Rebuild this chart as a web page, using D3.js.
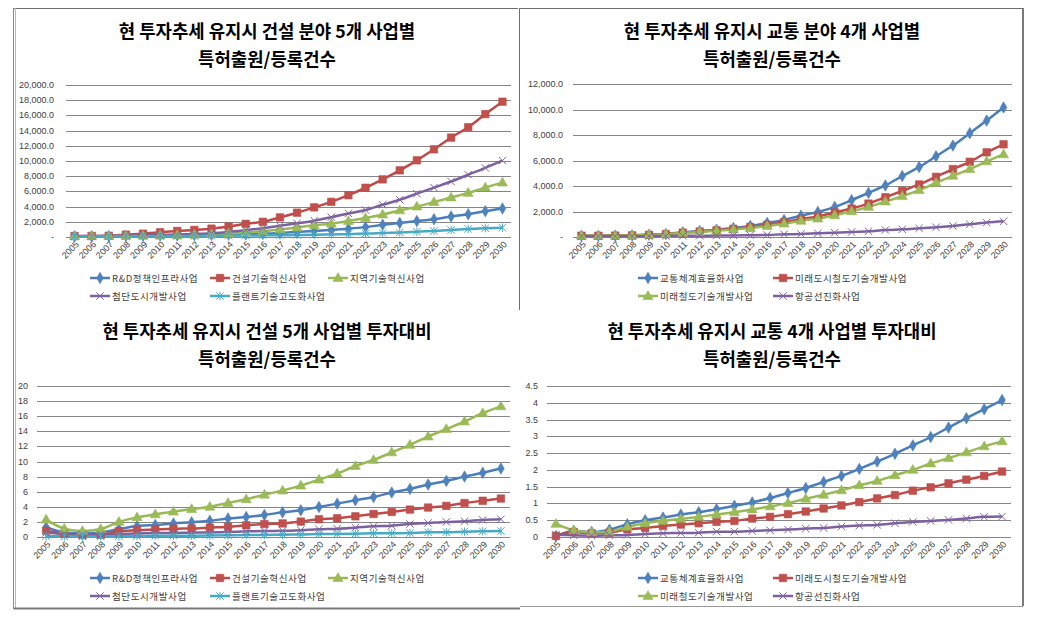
<!DOCTYPE html>
<html><head><meta charset="utf-8">
<script src="https://cdn.jsdelivr.net/npm/d3@7"></script>
<style>body{margin:0;background:#fff} svg{display:block}</style>
</head><body><svg id="c" width="1044" height="623"></svg>
<script>
const years = ['2005','2006','2007','2008','2009','2010','2011','2012','2013','2014','2015','2016','2017','2018','2019','2020','2021','2022','2023','2024','2025','2026','2027','2028','2029','2030'];

// construction series names
const conNames = ['R&D정책인프라사업','건설기술혁신사업','지역기술혁신사업','첨단도시개발사업','플랜트기술고도화사업'];
// transport series names
const traNames = ['교통체계효율화사업','미래도시철도기술개발사업','미래철도기술개발사업','항공선진화사업'];

const titleConCount = ['현 투자추세 유지시 건설 분야 5개 사업별','특허출원/등록건수'];
const titleTraCount = ['현 투자추세 유지시 교통 분야 4개 사업별','특허출원/등록건수'];
const titleConRatio = ['현 투자추세 유지시 건설 5개 사업별 투자대비','특허출원/등록건수'];
const titleTraRatio = ['현 투자추세 유지시 교통 4개 사업별 투자대비','특허출원/등록건수'];

// Top-left: construction patent counts
const conCountRnd = [90,100,110,130,150,180,210,250,290,320,360,440,530,670,800,950,1100,1300,1600,1850,2100,2350,2700,3000,3400,3750];
const conCountTech = [130,140,160,310,440,620,800,930,1100,1380,1730,2000,2580,3200,3900,4630,5500,6480,7580,8770,10090,11540,13080,14450,16170,17800];
const conCountRegion = [100,110,120,140,170,200,240,290,350,440,580,750,980,1250,1550,1750,2100,2500,2950,3500,4000,4600,5200,5800,6500,7150];
const conCountCity = [110,120,140,170,220,270,320,400,500,670,900,1150,1470,1800,2150,2600,3100,3550,4250,4900,5700,6500,7300,8200,9100,10050];
const conCountPlant = [80,85,90,100,110,120,130,140,150,170,190,210,230,260,290,330,370,450,520,600,700,800,920,1050,1150,1220];

// Top-right: transport patent counts
const traCountEff = [100,100,110,130,180,240,370,470,570,700,870,1100,1330,1670,1970,2360,2890,3460,4040,4780,5490,6330,7170,8140,9130,10160];
const traCountUrbanRail = [100,100,110,130,170,230,340,430,520,640,790,960,1150,1400,1600,1920,2230,2620,3120,3620,4120,4720,5330,5900,6640,7270];
const traCountRail = [90,95,105,120,160,220,320,400,490,590,700,850,1050,1270,1440,1700,2020,2360,2780,3200,3670,4250,4800,5330,5930,6480];
const traCountAir = [60,60,60,60,70,80,90,100,110,120,140,160,210,240,290,340,390,450,550,600,680,760,870,1000,1130,1230];

// Bottom-left: construction counts per investment
const conRatioRnd = [1.3,0.6,0.45,0.6,1.05,1.45,1.6,1.8,1.95,2.15,2.45,2.65,2.92,3.27,3.54,3.98,4.42,4.87,5.3,5.88,6.37,6.95,7.43,8.0,8.5,9.07];
const conRatioTech = [0.82,0.47,0.25,0.3,0.78,0.9,1.0,1.1,1.12,1.24,1.35,1.55,1.72,1.8,2.04,2.35,2.48,2.74,3.05,3.32,3.63,3.9,4.12,4.5,4.8,5.09];
const conRatioRegion = [2.3,1.1,0.8,1.05,2.0,2.6,3.0,3.35,3.7,4.0,4.5,5.0,5.6,6.15,6.8,7.6,8.4,9.4,10.2,11.2,12.2,13.3,14.3,15.3,16.4,17.3];
const conRatioCity = [0.55,0.4,0.3,0.3,0.4,0.45,0.52,0.53,0.57,0.6,0.66,0.75,0.8,0.82,0.9,1.02,1.1,1.24,1.42,1.5,1.73,1.86,2.0,2.08,2.26,2.35];
const conRatioPlant = [0.1,0.08,0.06,0.08,0.1,0.13,0.17,0.18,0.18,0.19,0.22,0.27,0.28,0.31,0.32,0.4,0.41,0.44,0.49,0.5,0.53,0.62,0.63,0.71,0.75,0.8];

// Bottom-right: transport counts per investment
const traRatioEff = [0.03,0.18,0.15,0.22,0.38,0.5,0.58,0.67,0.74,0.83,0.93,1.03,1.16,1.31,1.46,1.64,1.82,2.03,2.25,2.48,2.73,2.98,3.26,3.54,3.81,4.08];
const traRatioUrbanRail = [0.03,0.15,0.11,0.13,0.23,0.27,0.33,0.37,0.41,0.45,0.48,0.55,0.6,0.68,0.76,0.85,0.94,1.04,1.15,1.25,1.38,1.48,1.6,1.71,1.82,1.95];
const traRatioRail = [0.39,0.2,0.14,0.16,0.3,0.41,0.48,0.54,0.6,0.67,0.74,0.82,0.91,1.01,1.14,1.26,1.39,1.54,1.67,1.84,2.0,2.19,2.35,2.52,2.7,2.85];
const traRatioAir = [0.07,0.05,0.04,0.05,0.06,0.09,0.11,0.12,0.13,0.16,0.16,0.18,0.2,0.22,0.25,0.27,0.31,0.34,0.36,0.41,0.45,0.48,0.51,0.55,0.6,0.61];

const yTicksConCount = [0,2000,4000,6000,8000,10000,12000,14000,16000,18000,20000];
const yTicksTraCount = [0,2000,4000,6000,8000,10000,12000];
const yTicksConRatio = [0,2,4,6,8,10,12,14,16,18,20];
const yTicksTraRatio = [0,0.5,1,1.5,2,2.5,3,3.5,4,4.5];

// styles
const ST = {
  blue:   {line:'#4A7EBB', fill:'#4F81BD', m:'diamond'},
  red:    {line:'#BE4B48', fill:'#C0504D', m:'square'},
  green:  {line:'#98B954', fill:'#9BBB59', m:'triangle'},
  purple: {line:'#7D60A0', fill:'#8064A2', m:'x'},
  cyan:   {line:'#46AAC5', fill:'#4BACC6', m:'star'}
};

const svg = d3.select('#c');
const KFONT = "'Noto Sans CJK KR','Noto Sans',sans-serif";
const NFONT = "'Liberation Sans','DejaVu Sans',sans-serif";

function marker(g, type, st, cx, cy) {
  if (type === 'diamond') {
    g.append('path').attr('d', d3.symbol(d3.symbolDiamond, 38)()).attr('transform',`translate(${cx},${cy})`).attr('fill', st.fill).attr('stroke', st.line).attr('stroke-width',0.6);
  } else if (type === 'square') {
    g.append('path').attr('d', d3.symbol(d3.symbolSquare, 56)()).attr('transform',`translate(${cx},${cy})`).attr('fill', st.fill).attr('stroke', st.line).attr('stroke-width',0.6);
  } else if (type === 'triangle') {
    g.append('path').attr('d', d3.symbol(d3.symbolTriangle, 44)()).attr('transform',`translate(${cx},${cy+0.5})`).attr('fill', st.fill).attr('stroke', st.line).attr('stroke-width',0.6);
  } else if (type === 'x' || type === 'star') {
    const r = 3.7;
    let d = `M${-r},${-r}L${r},${r}M${-r},${r}L${r},${-r}`;
    if (type === 'star') d += `M0,${-r-0.5}L0,${r+0.5}`;
    g.append('path').attr('d', d).attr('transform',`translate(${cx},${cy})`).attr('fill','none').attr('stroke', st.fill).attr('stroke-width',1);
  }
}

function drawPanel(cfg) {
  const g = svg.append('g');
  // title
  cfg.title.forEach((t, i) => {
    g.append('text').attr('x', cfg.titleX).attr('y', cfg.titleY + i * 28)
      .attr('text-anchor','middle').attr('font-family', KFONT).attr('font-weight','bold')
      .attr('font-size', 17.8).attr('fill','#000').text(t);
  });
  const x = d3.scaleBand().domain(years).range([cfg.x0, cfg.x1]).padding(0);
  const y = d3.scaleLinear().domain([0, cfg.yMax]).range([cfg.yBottom, cfg.yTop]);
  const cx = d => x(d) + x.bandwidth() / 2;
  // gridlines
  g.selectAll('line.grid').data(cfg.yTicks).enter().append('line')
    .attr('x1', cfg.x0).attr('x2', cfg.x1)
    .attr('y1', d => Math.round(y(d)) + 0.5).attr('y2', d => Math.round(y(d)) + 0.5)
    .attr('stroke', '#868686').attr('stroke-width', 1);
  // y labels
  g.selectAll('text.yl').data(cfg.yTicks).enter().append('text')
    .attr('x', cfg.x0 - cfg.yLabelGap).attr('y', d => y(d) + 3)
    .attr('text-anchor','end').attr('font-family', NFONT).attr('font-size', 9).attr('fill','#404040')
    .text(cfg.yFmt);
  // x labels
  g.selectAll('text.xl').data(years).enter().append('text')
    .attr('transform', d => `translate(${cx(d) + 5},${cfg.yBottom + 8}) rotate(-45)`)
    .attr('text-anchor','end').attr('font-family', NFONT).attr('font-size', 9).attr('fill','#404040')
    .text(d => d);
  // series
  const line = d3.line().x((d, i) => cx(years[i])).y(d => y(d)).curve(d3.curveMonotoneX);
  cfg.series.forEach(s => {
    const st = ST[s.style];
    g.append('path').attr('d', line(s.values)).attr('fill','none').attr('stroke', st.line).attr('stroke-width', 2.5).attr('stroke-linejoin','round');
  });
  cfg.series.forEach(s => {
    const st = ST[s.style];
    s.values.forEach((v, i) => marker(g, st.m, st, cx(years[i]), y(v)));
  });
  // legend
  cfg.series.forEach((s, i) => {
    const st = ST[s.style];
    const p = cfg.legendPos[i];
    g.append('line').attr('x1', p[0]).attr('x2', p[0] + 20).attr('y1', p[1]).attr('y2', p[1]).attr('stroke', st.line).attr('stroke-width', 2.5);
    marker(g, st.m, st, p[0] + 10, p[1]);
    g.append('text').attr('x', p[0] + 22).attr('y', p[1] + 3.5).attr('font-family', KFONT).attr('font-size', 9.5)
      .attr('letter-spacing', 0.6).attr('fill','#404040').text(s.name);
  });
}

const fmtCount = d => d === 0 ? '-' : d3.format(',.1f')(d);
const fmtRatio = d => String(d);

drawPanel({
  title: titleConCount, titleX: 267, titleY: 38,
  x0: 66, x1: 511, yTop: 85, yBottom: 237, yMax: 20000, yTicks: yTicksConCount, yFmt: fmtCount, yLabelGap: 12,
  series: [
    {name: conNames[0], values: conCountRnd, style: 'blue'},
    {name: conNames[1], values: conCountTech, style: 'red'},
    {name: conNames[2], values: conCountRegion, style: 'green'},
    {name: conNames[3], values: conCountCity, style: 'purple'},
    {name: conNames[4], values: conCountPlant, style: 'cyan'}
  ],
  legendPos: [[90,278],[210,278],[328,278],[90,296],[210,296]]
});
drawPanel({
  title: titleTraCount, titleX: 772, titleY: 38,
  x0: 573, x1: 1012, yTop: 84, yBottom: 237, yMax: 12000, yTicks: yTicksTraCount, yFmt: fmtCount, yLabelGap: 10,
  series: [
    {name: traNames[0], values: traCountEff, style: 'blue'},
    {name: traNames[1], values: traCountUrbanRail, style: 'red'},
    {name: traNames[2], values: traCountRail, style: 'green'},
    {name: traNames[3], values: traCountAir, style: 'purple'}
  ],
  legendPos: [[638,278],[773,278],[638,296],[773,296]]
});
drawPanel({
  title: titleConRatio, titleX: 267, titleY: 338,
  x0: 37, x1: 510, yTop: 386, yBottom: 537, yMax: 20, yTicks: yTicksConRatio, yFmt: fmtRatio, yLabelGap: 9,
  series: [
    {name: conNames[0], values: conRatioRnd, style: 'blue'},
    {name: conNames[1], values: conRatioTech, style: 'red'},
    {name: conNames[2], values: conRatioRegion, style: 'green'},
    {name: conNames[3], values: conRatioCity, style: 'purple'},
    {name: conNames[4], values: conRatioPlant, style: 'cyan'}
  ],
  legendPos: [[90,578],[210,578],[328,578],[90,596],[210,596]]
});
drawPanel({
  title: titleTraRatio, titleX: 772, titleY: 338,
  x0: 547, x1: 1011, yTop: 386, yBottom: 537, yMax: 4.5, yTicks: yTicksTraRatio, yFmt: fmtRatio, yLabelGap: 9,
  series: [
    {name: traNames[0], values: traRatioEff, style: 'blue'},
    {name: traNames[1], values: traRatioUrbanRail, style: 'red'},
    {name: traNames[2], values: traRatioRail, style: 'green'},
    {name: traNames[3], values: traRatioAir, style: 'purple'}
  ],
  legendPos: [[638,578],[773,578],[638,596],[773,596]]
});

// panel frames
const frame = svg.append('g').attr('fill','none');
const L = (x1,y1,x2,y2,c,w) => frame.append('line').attr('x1',x1).attr('y1',y1).attr('x2',x2).attr('y2',y2).attr('stroke',c).attr('stroke-width',w);
L(14,8.5,518,8.5,'#6e6e6e',1);
L(13.5,8,13.5,609,'#8a8a8a',1);
L(15.5,8,15.5,609,'#b8b8b8',1);
L(519.5,8,519.5,310,'#6e6e6e',1);
L(520,8.5,1023,8.5,'#6e6e6e',1);
L(1023,8,1023,606,'#7a7a7a',2);
L(14,608.5,520,608.5,'#7a7a7a',2);
L(520,606.5,1023,606.5,'#9a9a9a',1);
</script></body></html>
